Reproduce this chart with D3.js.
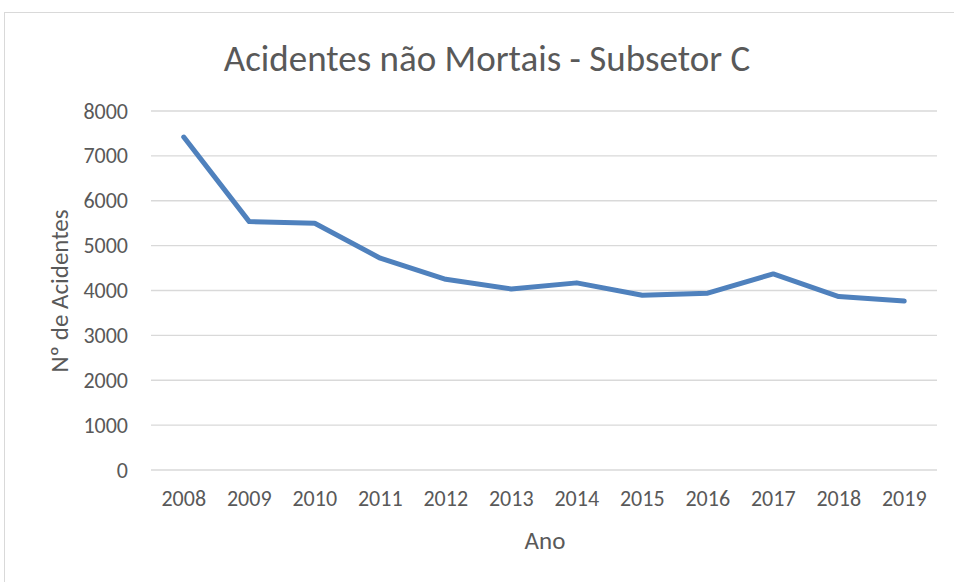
<!DOCTYPE html>
<meta charset="utf-8">
<style>
  body { margin: 0; background: #fff; }
  svg { font-family: Carlito, Calibri, Lato, "Open Sans", sans-serif; }
  .grid line { stroke: #d9d9d9; stroke-width: 1.3px; }
  .tick text { fill: #595959; font-size: 22px; font-family: Carlito, Calibri, Lato, sans-serif; }
</style>
<body>
<svg width="954" height="582"></svg>
<script src="https://cdn.jsdelivr.net/npm/d3@7"></script>
<script>
  var years = ["2008", "2009", "2010", "2011", "2012", "2013", "2014", "2015", "2016", "2017", "2018", "2019"];
  var acidentes = [7420, 5535, 5500, 4720, 4250, 4035, 4170, 3895, 3940, 4370, 3865, 3765];
  var yTicks = [0, 1000, 2000, 3000, 4000, 5000, 6000, 7000, 8000];

  var svg = d3.select("svg");
  var plotLeft = 151, plotRight = 937, plotTop = 111, plotBottom = 470;

  // chart frame
  svg.append("rect")
    .attr("x", 4.5).attr("y", 12.5)
    .attr("width", 960).attr("height", 600)
    .attr("fill", "none")
    .attr("stroke", "#d9d9d9");

  var x = d3.scaleBand().domain(years).range([plotLeft, plotRight]);
  var y = d3.scaleLinear().domain([0, 8000]).range([plotBottom, plotTop]);

  // gridlines
  svg.append("g")
    .attr("class", "grid")
    .selectAll("line")
    .data(yTicks)
    .join("line")
      .attr("x1", plotLeft).attr("x2", plotRight)
      .attr("y1", d => y(d)).attr("y2", d => y(d));

  // y axis labels
  var yAxis = svg.append("g")
    .attr("transform", "translate(" + (plotLeft - 11) + ",0)")
    .call(d3.axisLeft(y).tickValues(yTicks).tickFormat(d3.format("d")).tickSize(0).tickPadding(12));
  yAxis.select(".domain").remove();

  // x axis labels
  var xAxis = svg.append("g")
    .attr("transform", "translate(0," + plotBottom + ")")
    .call(d3.axisBottom(x).tickSize(0).tickPadding(20));
  xAxis.select(".domain").remove();

  // line
  var line = d3.line()
    .x((d, i) => x(years[i]) + x.bandwidth() / 2)
    .y(d => y(d));

  svg.append("path")
    .datum(acidentes)
    .attr("d", line)
    .attr("fill", "none")
    .attr("stroke", "#4f81bd")
    .attr("stroke-width", 5)
    .attr("stroke-linejoin", "round")
    .attr("stroke-linecap", "round");

  // titles
  svg.append("text")
    .attr("x", 487).attr("y", 71)
    .attr("text-anchor", "middle")
    .attr("fill", "#595959")
    .attr("font-size", 37)
    .text("Acidentes não Mortais - Subsetor C");

  svg.append("text")
    .attr("x", 545).attr("y", 549)
    .attr("text-anchor", "middle")
    .attr("fill", "#595959")
    .attr("font-size", 25)
    .text("Ano");

  svg.append("text")
    .attr("transform", "translate(68,291) rotate(-90)")
    .attr("text-anchor", "middle")
    .attr("fill", "#595959")
    .attr("font-size", 25)
    .text("Nº de Acidentes");
</script>
</body>
